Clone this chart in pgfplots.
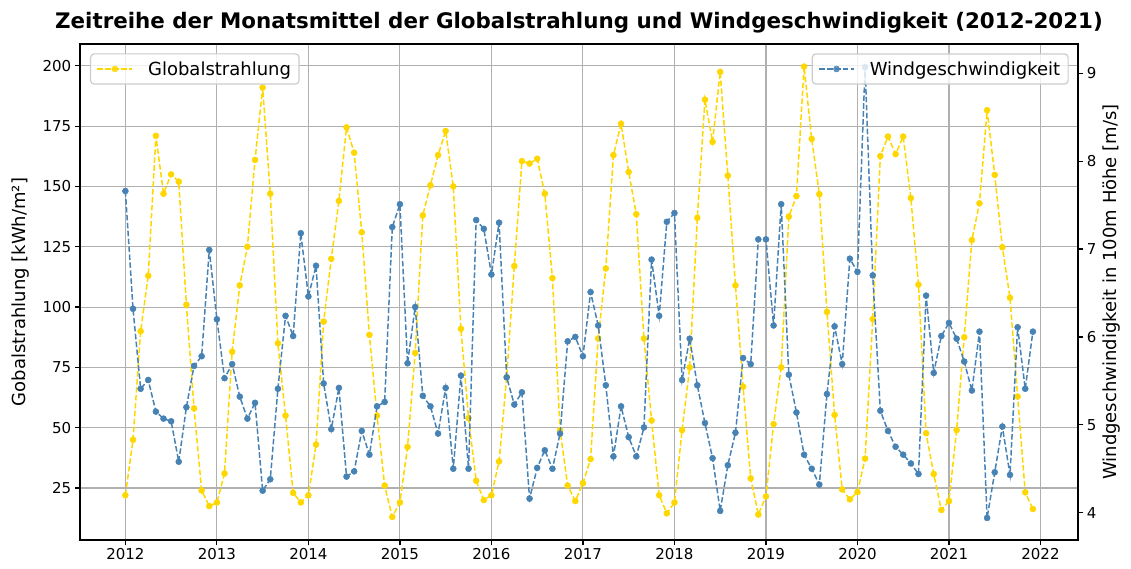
\documentclass[border=0pt]{standalone}
\usepackage{fontspec}
\setmainfont{DejaVu Sans}
\usepackage{pgfplots}
\pgfplotsset{compat=1.18}
\usepackage{pgfplotstable}
\definecolor{gold}{HTML}{FFD700}
\definecolor{steel}{HTML}{4682B4}
\definecolor{gridc}{HTML}{B0B0B0}
\definecolor{legc}{HTML}{CCCCCC}

\pgfplotstableread{
yr mo g w
2012 1 22 7.66
2012 2 45 6.32
2012 3 90 5.41
2012 4 113 5.51
2012 5 171 5.15
2012 6 147 5.07
2012 7 155 5.04
2012 8 152 4.58
2012 9 101 5.20
2012 10 58 5.67
2012 11 24 5.78
2012 12 17.5 6.99
2013 1 19 6.20
2013 2 31 5.53
2013 3 81.5 5.69
2013 4 109 5.32
2013 5 125 5.07
2013 6 161 5.25
2013 7 191 4.25
2013 8 147 4.38
2013 9 85 5.41
2013 10 55 6.24
2013 11 23 6.01
2013 12 19 7.18
2014 1 22 6.46
2014 2 43 6.81
2014 3 94 5.47
2014 4 120 4.95
2014 5 144 5.42
2014 6 174.5 4.41
2014 7 164 4.47
2014 8 131 4.93
2014 9 88.5 4.66
2014 10 55 5.21
2014 11 26 5.26
2014 12 13 7.25
2015 1 19 7.51
2015 2 42 5.70
2015 3 81 6.34
2015 4 138 5.33
2015 5 150.5 5.21
2015 6 163 4.90
2015 7 173 5.42
2015 8 150 4.50
2015 9 91 5.56
2015 10 54 4.50
2015 11 28 7.33
2015 12 20 7.23
2016 1 22 6.71
2016 2 36 7.30
2016 3 71 5.54
2016 4 117 5.23
2016 5 160.5 5.37
2016 6 159.5 4.16
2016 7 161.5 4.51
2016 8 147 4.71
2016 9 112 4.50
2016 10 49 4.90
2016 11 26 5.95
2016 12 19.6 6.00
2017 1 27 5.78
2017 2 37 6.51
2017 3 87 6.13
2017 4 116 5.45
2017 5 163 4.64
2017 6 176 5.21
2017 7 156 4.86
2017 8 138.5 4.64
2017 9 87 4.97
2017 10 53 6.88
2017 11 22 6.24
2017 12 14.5 7.31
2018 1 19 7.41
2018 2 49 5.51
2018 3 75 5.98
2018 4 137 5.45
2018 5 186 5.02
2018 6 168.5 4.62
2018 7 197.5 4.02
2018 8 154.5 4.54
2018 9 109 4.91
2018 10 67 5.76
2018 11 29 5.69
2018 12 14 7.11
2019 1 21.5 7.11
2019 2 51.5 6.13
2019 3 75 7.51
2019 4 137.5 5.57
2019 5 146 5.14
2019 6 199.7 4.66
2019 7 169.7 4.50
2019 8 146.8 4.32
2019 9 98 5.35
2019 10 55.3 6.12
2019 11 24.4 5.69
2019 12 20.3 6.89
2020 1 23.3 6.74
2020 2 37.2 9.07
2020 3 95 6.70
2020 4 162.6 5.16
2020 5 170.7 4.93
2020 6 163.4 4.75
2020 7 170.7 4.66
2020 8 145.2 4.56
2020 9 109.3 4.44
2020 10 47.7 6.47
2020 11 30.8 5.59
2020 12 15.9 6.01
2021 1 19.6 6.16
2021 2 49 5.98
2021 3 87.5 5.72
2021 4 127.8 5.39
2021 5 143 6.06
2021 6 181.6 3.94
2021 7 154.8 4.46
2021 8 124.8 4.98
2021 9 103.9 4.43
2021 10 62.9 6.11
2021 11 23.2 5.41
2021 12 16.3 6.06
}\data

\pgfplotsset{
  common/.style={
    scale only axis, width=998pt, height=496pt,
    xmin=2011.504, xmax=2022.41,
    axis line style={line width=1.2pt},
    every tick/.style={black, line width=1.2pt},
    tick align=outside, major tick length=5.25pt,
    /pgf/number format/assume math mode=true,
    tick label style={font=\fontsize{15}{18}\selectfont},
    label style={font=\fontsize{18}{21}\selectfont},
    legend cell align=left,
    legend image code/.code={\draw[mark repeat=2,mark phase=2,##1] plot coordinates {(0pt,0pt) (17.5pt,0pt) (35pt,0pt)};},
  },
  legbox/.style={
    draw=legc, line width=1.2pt, rounded corners=3.6pt, fill=white,
    fill opacity=0.8, text opacity=1, draw opacity=1,
    font=\fontsize{18}{21}\selectfont,
    inner xsep=6pt, inner ysep=5.5pt,
    nodes={inner sep=2pt},
    /tikz/every odd column/.append style={column sep=13pt},
  },
  ser/.style={line width=1.5pt, dash pattern=on 5.55pt off 2.4pt, mark=*, mark size=3pt, mark options={solid, line width=0.5pt}},
}

\begin{document}
\begin{tikzpicture}
\begin{axis}[common,
  ymin=3.45, ymax=209.05,
  xtick={2012,2013,2014,2015,2016,2017,2018,2019,2020,2021,2022},
  xticklabel style={/pgf/number format/1000 sep={}},
  ytick={25,50,75,100,125,150,175,200},
  xtick pos=bottom, ytick pos=left,
  grid=major, major grid style={color=gridc, line width=1.1pt},
  ylabel={Gobalstrahlung [kWh/m²]},
  ylabel style={yshift=6pt},
  title={Zeitreihe der Monatsmittel der Globalstrahlung und Windgeschwindigkeit (2012-2021)},
  title style={font=\bfseries\fontsize{21.4}{25}\selectfont, yshift=1pt},
  legend style={legbox, at={(0,1)}, anchor=north west, xshift=10pt, yshift=-9.3pt},
]
\addplot[ser, color=gold] table[x expr=\thisrow{yr}+(\thisrow{mo}-1)/12, y=g] {\data};
\addlegendentry{Globalstrahlung}
\end{axis}
\begin{axis}[common,
  ymin=3.689, ymax=9.333,
  axis x line=none, axis y line*=right,
  ytick={4,5,6,7,8,9},
  ylabel={Windgeschwindigkeit in 100m Höhe [m/s]},
  legend style={legbox, at={(1,1)}, anchor=north east, xshift=-9.3pt, yshift=-9.3pt},
]
\addplot[ser, color=steel] table[x expr=\thisrow{yr}+(\thisrow{mo}-1)/12, y=w] {\data};
\addlegendentry{Windgeschwindigkeit}
\end{axis}
\pgfresetboundingbox
\path[use as bounding box] (-80pt,-28pt) rectangle (1051pt,540pt);
\end{tikzpicture}
\end{document}
